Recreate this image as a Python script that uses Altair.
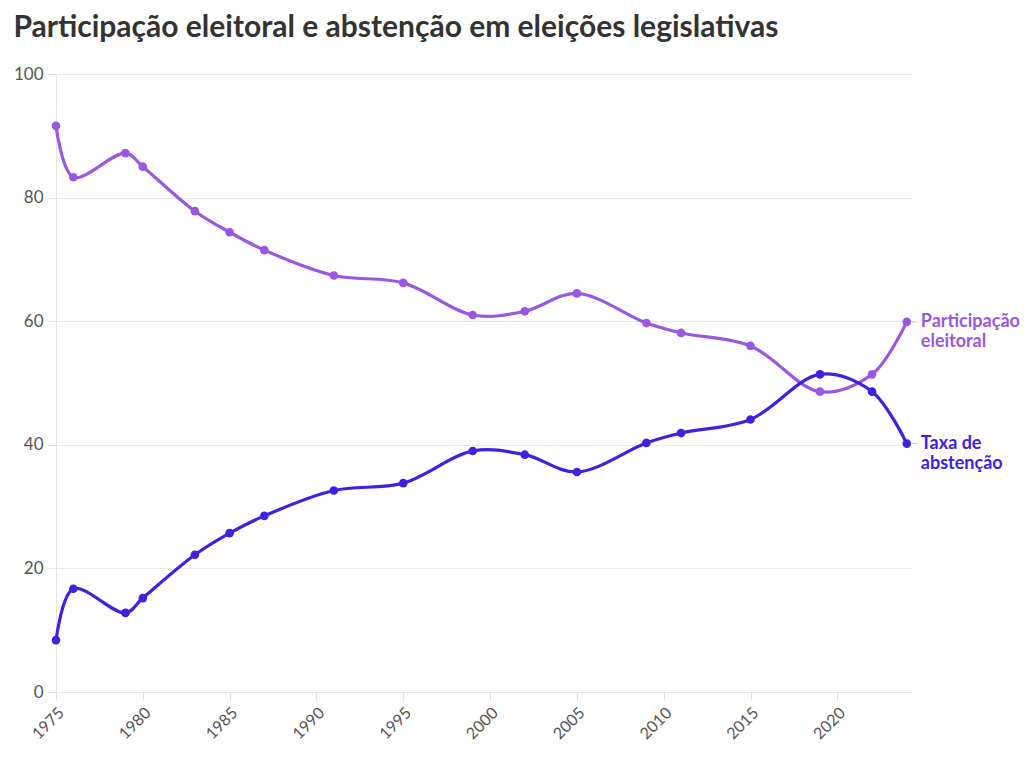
import altair as alt
import pandas as pd

years = [1975, 1976, 1979, 1980, 1983, 1985, 1987, 1991, 1995, 1999, 2002, 2005, 2009, 2011, 2015, 2019, 2022, 2024]
participacao = [91.6, 83.3, 87.2, 85.0, 77.8, 74.4, 71.5, 67.4, 66.2, 61.0, 61.6, 64.5, 59.7, 58.1, 56.0, 48.6, 51.4, 59.9]
abstencao = [8.4, 16.7, 12.8, 15.2, 22.2, 25.7, 28.5, 32.6, 33.8, 39.0, 38.4, 35.6, 40.3, 41.9, 44.1, 51.4, 48.6, 40.2]

series_names = ["Participação eleitoral", "Taxa de abstenção"]
series_labels = ["Participação\neleitoral", "Taxa de\nabstenção"]
colors = ["#9a57df", "#3f22df"]

rows = []
for y, p, a in zip(years, participacao, abstencao):
    rows.append({"ano": y, "valor": p, "serie": series_names[0]})
    rows.append({"ano": y, "valor": a, "serie": series_names[1]})
df = pd.DataFrame(rows)

last = pd.DataFrame({
    "ano": [years[-1], years[-1]],
    "valor": [participacao[-1], abstencao[-1]],
    "serie": series_names,
    "label": series_labels,
})

FONT = "Lato"
color_scale = alt.Scale(domain=series_names, range=colors)

x_enc = alt.X("ano:Q", scale=alt.Scale(domain=[1975, 2024.3], nice=False, zero=False),
              axis=alt.Axis(values=list(range(1975, 2025, 5)), format="d", labelAngle=-45,
                            labelAlign="right", labelBaseline="middle", grid=False,
                            domainColor="#e6e6e6", tickColor="#e0e0e0", tickSize=8,
                            labelFontSize=16, labelColor="#555", labelFont=FONT, title=None,
                            labelPadding=10, labelOffset=5))
y_enc = alt.Y("valor:Q", scale=alt.Scale(domain=[0, 100]),
              axis=alt.Axis(values=[0, 20, 40, 60, 80, 100], grid=True, gridColor="#e8e8e8",
                            domainColor="#e6e6e6", tickColor="#e0e0e0", tickSize=8,
                            labelFontSize=17, labelColor="#555", labelFont=FONT, title=None,
                            labelPadding=5))
c_enc = alt.Color("serie:N", scale=color_scale, legend=None)

base = alt.Chart(df)
lines = base.mark_line(interpolate="catmull-rom", strokeWidth=3.2).encode(x=x_enc, y=y_enc, color=c_enc)
points = base.mark_circle(size=75, opacity=1).encode(x="ano:Q", y="valor:Q", color=c_enc)

ticks = alt.Chart(last).mark_tick(orient="horizontal", size=5, thickness=1, xOffset=8, color="#aaa").encode(
    x="ano:Q", y="valor:Q")
labels = alt.Chart(last).mark_text(align="left", baseline="middle", dx=14, fontSize=18,
                                    fontWeight="bold", font=FONT, lineBreak="\n", lineHeight=20).encode(
    x="ano:Q", y="valor:Q", text="label:N", color=c_enc)

chart = alt.layer(lines, points, ticks, labels).properties(
    width=856, height=618,
    padding={"left": 5, "top": 5, "right": 0, "bottom": 0},
    title=alt.TitleParams("Participação eleitoral e abstenção em eleições legislativas",
                          anchor="start", frame="bounds", fontSize=30, fontWeight="bold",
                          color="#333", font=FONT, offset=22)
).configure_view(stroke=None)

chart.save("out.html", embed_options={"renderer": "svg", "actions": False})
